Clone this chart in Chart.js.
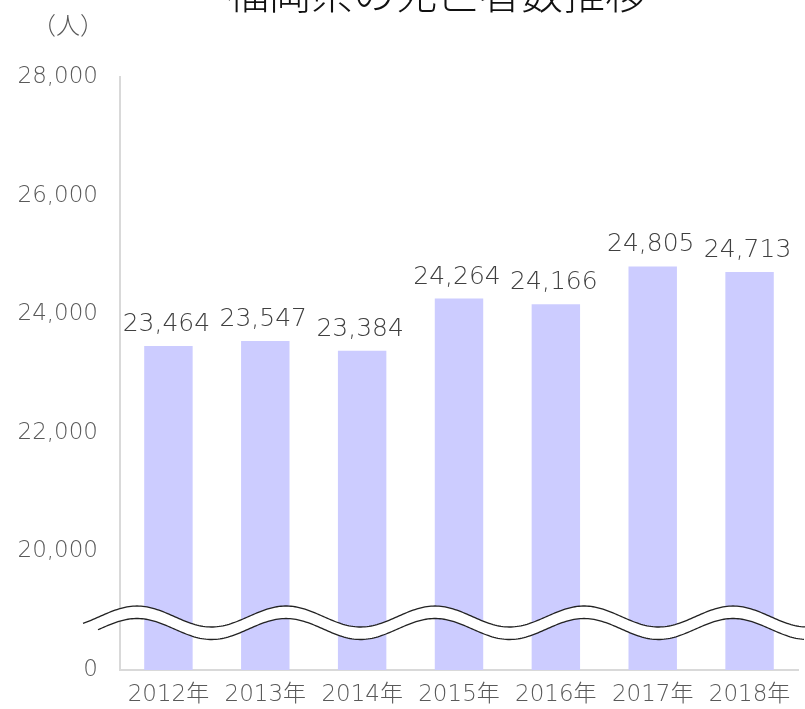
<!DOCTYPE html>
<html>
<head>
<meta charset="utf-8">
<script src="https://cdn.jsdelivr.net/npm/chart.js"></script>
<style>
html,body{margin:0;padding:0;background:#fff;overflow:hidden}
#wrap{position:relative;width:805px;height:709px}
</style>
</head>
<body>
<div id="wrap"><canvas id="chart" width="805" height="709"></canvas></div>
<script>
/* ===== data ===== */
const years = ['2012年','2013年','2014年','2015年','2016年','2017年','2018年'];
const deaths = [23464, 23547, 23384, 24264, 24166, 24805, 24713];
// axis is broken: the lowest tick stands for 0
const yTickValues = [18000, 20000, 22000, 24000, 26000, 28000];
const yTickLabels = ['0', '20,000', '22,000', '24,000', '26,000', '28,000'];
const titleText = '福岡県の死亡者数推移';
const unitText = '（人）';

const NUM_FONT = '"DejaVu Sans", "Noto Sans CJK JP", sans-serif';
const JP_FONT = '"Noto Sans CJK JP", sans-serif';

/* ===== plugins ===== */
const barLabels = {
  id: 'barLabels',
  afterDatasetsDraw(chart){
    const ctx = chart.ctx, meta = chart.getDatasetMeta(0);
    ctx.save();
    ctx.font = '300 25px ' + NUM_FONT;
    ctx.fillStyle = '#404040';
    ctx.textAlign = 'center';
    ctx.textBaseline = 'alphabetic';
    meta.data.forEach((bar, i) => {
      ctx.fillText(deaths[i].toLocaleString('en-US'), bar.x - 2, bar.y - 15);
    });
    ctx.restore();
  }
};

// wavy "axis break" band drawn over bars and axis
const breakBand = {
  id: 'breakBand',
  afterDraw(chart){
    const ctx = chart.ctx, a = chart.chartArea;
    const amp = 10.5, period = 149, phase = 137;
    const yTop = x => a.bottom - 53.5 - amp * Math.cos(2 * Math.PI * (x - phase) / period);
    const yBot = x => yTop(x) + 12.5;
    const x0 = 83, x1 = 98, xEnd = chart.width;
    ctx.save();
    ctx.beginPath();
    ctx.moveTo(x0, yTop(x0));
    for (let x = x0; x <= xEnd; x += 2) ctx.lineTo(x, yTop(x));
    for (let x = xEnd; x >= x1; x -= 2) ctx.lineTo(x, yBot(x));
    ctx.closePath();
    ctx.fillStyle = '#fff';
    ctx.fill();
    ctx.strokeStyle = '#222';
    ctx.lineWidth = 1.3;
    ctx.beginPath();
    ctx.moveTo(x0, yTop(x0));
    for (let x = x0; x <= xEnd; x += 2) ctx.lineTo(x, yTop(x));
    ctx.stroke();
    ctx.beginPath();
    ctx.moveTo(x1, yBot(x1));
    for (let x = x1; x <= xEnd; x += 2) ctx.lineTo(x, yBot(x));
    ctx.stroke();

    // title (cut at top like the original) and unit
    ctx.fillStyle = '#111';
    ctx.textAlign = 'center';
    ctx.textBaseline = 'alphabetic';
    ctx.font = '300 42px ' + JP_FONT;
    ctx.fillText(titleText, 437, 9);
    ctx.fillStyle = '#595959';
    ctx.textAlign = 'left';
    ctx.textBaseline = 'middle';
    ctx.font = '300 24px ' + JP_FONT;
    ctx.fillText(unitText, 32, 25);
    ctx.restore();
  }
};

/* ===== chart ===== */
new Chart(document.getElementById('chart'), {
  type: 'bar',
  data: {
    labels: years,
    datasets: [{
      data: deaths,
      backgroundColor: '#ccccff',
      categoryPercentage: 1,
      barPercentage: 0.5
    }]
  },
  options: {
    responsive: false,
    animation: false,
    devicePixelRatio: 1,
    layout: {padding: {top: 77, right: 7, left: 0, bottom: 0}},
    plugins: {legend: {display: false}, tooltip: {enabled: false}, title: {display: false}},
    scales: {
      x: {
        grid: {display: false, drawTicks: false},
        border: {color: '#d9d9d9', width: 2},
        ticks: {color: '#595959', font: {size: 23, family: NUM_FONT, weight: 300}, padding: 11, maxRotation: 0},
        afterFit: s => { s.height = 39; }
      },
      y: {
        min: 18000,
        max: 28000,
        beginAtZero: false,
        afterBuildTicks: s => { s.ticks = yTickValues.map(v => ({value: v})); },
        grid: {display: false, drawTicks: false},
        border: {color: '#d9d9d9', width: 2},
        ticks: {
          color: '#595959',
          font: {size: 23, family: NUM_FONT, weight: 300},
          padding: 22,
          callback: (v, i) => yTickLabels[i]
        },
        afterFit: s => { s.width = 120; }
      }
    }
  },
  plugins: [barLabels, breakBand]
});
</script>
</body>
</html>
